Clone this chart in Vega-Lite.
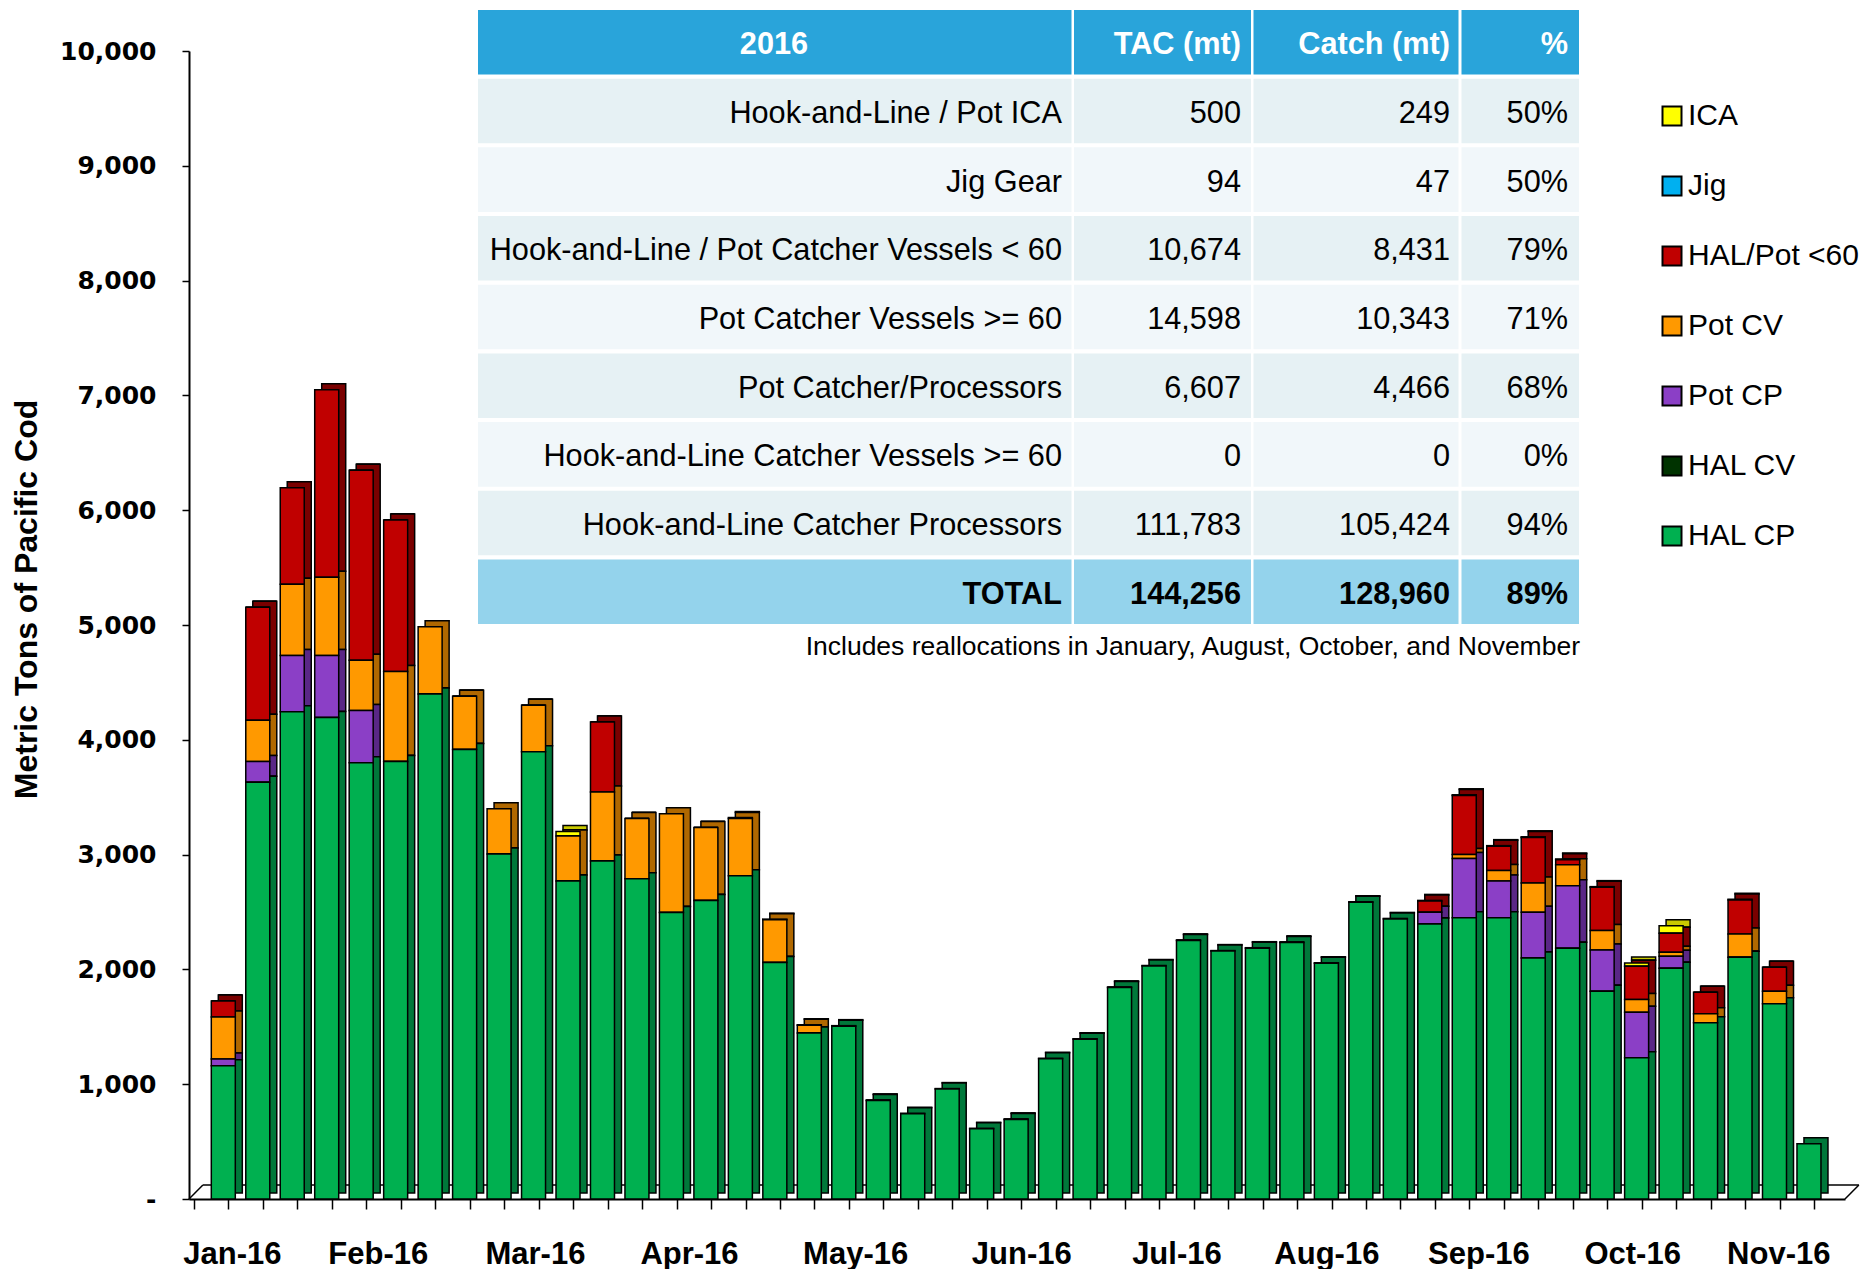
{
  "$schema": "https://vega.github.io/schema/vega-lite/v6.json",
  "width": 1656,
  "height": 1148,
  "autosize": "none",
  "padding": {"left": 189, "top": 51, "right": 28, "bottom": 70},
  "background": "white",
  "config": {"view": {"stroke": null}, "font": "Liberation Sans"},
  "datasets": {
    "weeks": [
      {"week":1,"HAL CP":1160,"HAL CV":0,"Pot CP":60,"Pot CV":365,"HAL/Pot <60":140,"Jig":0,"ICA":0},
      {"week":2,"HAL CP":3630,"HAL CV":0,"Pot CP":180,"Pot CV":360,"HAL/Pot <60":985,"Jig":0,"ICA":0},
      {"week":3,"HAL CP":4245,"HAL CV":0,"Pot CP":490,"Pot CV":620,"HAL/Pot <60":840,"Jig":0,"ICA":0},
      {"week":4,"HAL CP":4195,"HAL CV":0,"Pot CP":540,"Pot CV":680,"HAL/Pot <60":1635,"Jig":0,"ICA":0},
      {"week":5,"HAL CP":3800,"HAL CV":0,"Pot CP":455,"Pot CV":438,"HAL/Pot <60":1655,"Jig":0,"ICA":0},
      {"week":6,"HAL CP":3810,"HAL CV":0,"Pot CP":0,"Pot CV":785,"HAL/Pot <60":1320,"Jig":0,"ICA":0},
      {"week":7,"HAL CP":4400,"HAL CV":0,"Pot CP":0,"Pot CV":585,"HAL/Pot <60":0,"Jig":0,"ICA":0},
      {"week":8,"HAL CP":3915,"HAL CV":0,"Pot CP":0,"Pot CV":465,"HAL/Pot <60":0,"Jig":0,"ICA":0},
      {"week":9,"HAL CP":3005,"HAL CV":0,"Pot CP":0,"Pot CV":395,"HAL/Pot <60":0,"Jig":0,"ICA":0},
      {"week":10,"HAL CP":3895,"HAL CV":0,"Pot CP":0,"Pot CV":405,"HAL/Pot <60":0,"Jig":0,"ICA":0},
      {"week":11,"HAL CP":2770,"HAL CV":0,"Pot CP":0,"Pot CV":392,"HAL/Pot <60":0,"Jig":0,"ICA":40},
      {"week":12,"HAL CP":2945,"HAL CV":0,"Pot CP":0,"Pot CV":600,"HAL/Pot <60":610,"Jig":0,"ICA":0},
      {"week":13,"HAL CP":2790,"HAL CV":0,"Pot CP":0,"Pot CV":525,"HAL/Pot <60":0,"Jig":0,"ICA":0},
      {"week":14,"HAL CP":2495,"HAL CV":0,"Pot CP":0,"Pot CV":860,"HAL/Pot <60":0,"Jig":0,"ICA":0},
      {"week":15,"HAL CP":2600,"HAL CV":0,"Pot CP":0,"Pot CV":635,"HAL/Pot <60":0,"Jig":0,"ICA":0},
      {"week":16,"HAL CP":2815,"HAL CV":0,"Pot CP":0,"Pot CV":500,"HAL/Pot <60":0,"Jig":0,"ICA":8},
      {"week":17,"HAL CP":2060,"HAL CV":0,"Pot CP":0,"Pot CV":372,"HAL/Pot <60":0,"Jig":0,"ICA":6},
      {"week":18,"HAL CP":1445,"HAL CV":0,"Pot CP":0,"Pot CV":68,"HAL/Pot <60":0,"Jig":0,"ICA":5},
      {"week":19,"HAL CP":1505,"HAL CV":0,"Pot CP":0,"Pot CV":0,"HAL/Pot <60":0,"Jig":0,"ICA":5},
      {"week":20,"HAL CP":858,"HAL CV":0,"Pot CP":0,"Pot CV":0,"HAL/Pot <60":0,"Jig":0,"ICA":4},
      {"week":21,"HAL CP":743,"HAL CV":0,"Pot CP":0,"Pot CV":0,"HAL/Pot <60":0,"Jig":0,"ICA":4},
      {"week":22,"HAL CP":958,"HAL CV":0,"Pot CP":0,"Pot CV":0,"HAL/Pot <60":0,"Jig":0,"ICA":4},
      {"week":23,"HAL CP":612,"HAL CV":0,"Pot CP":0,"Pot CV":0,"HAL/Pot <60":0,"Jig":0,"ICA":4},
      {"week":24,"HAL CP":693,"HAL CV":0,"Pot CP":0,"Pot CV":0,"HAL/Pot <60":0,"Jig":0,"ICA":4},
      {"week":25,"HAL CP":1222,"HAL CV":0,"Pot CP":0,"Pot CV":0,"HAL/Pot <60":0,"Jig":0,"ICA":4},
      {"week":26,"HAL CP":1392,"HAL CV":0,"Pot CP":0,"Pot CV":0,"HAL/Pot <60":0,"Jig":0,"ICA":4},
      {"week":27,"HAL CP":1842,"HAL CV":0,"Pot CP":0,"Pot CV":0,"HAL/Pot <60":0,"Jig":0,"ICA":4},
      {"week":28,"HAL CP":2030,"HAL CV":0,"Pot CP":0,"Pot CV":0,"HAL/Pot <60":0,"Jig":0,"ICA":4},
      {"week":29,"HAL CP":2252,"HAL CV":0,"Pot CP":0,"Pot CV":0,"HAL/Pot <60":0,"Jig":0,"ICA":4},
      {"week":30,"HAL CP":2160,"HAL CV":0,"Pot CP":0,"Pot CV":0,"HAL/Pot <60":0,"Jig":0,"ICA":4},
      {"week":31,"HAL CP":2185,"HAL CV":0,"Pot CP":0,"Pot CV":0,"HAL/Pot <60":0,"Jig":0,"ICA":4},
      {"week":32,"HAL CP":2235,"HAL CV":0,"Pot CP":0,"Pot CV":0,"HAL/Pot <60":0,"Jig":0,"ICA":4},
      {"week":33,"HAL CP":2053,"HAL CV":0,"Pot CP":0,"Pot CV":0,"HAL/Pot <60":0,"Jig":0,"ICA":4},
      {"week":34,"HAL CP":2585,"HAL CV":0,"Pot CP":0,"Pot CV":0,"HAL/Pot <60":0,"Jig":0,"ICA":4},
      {"week":35,"HAL CP":2440,"HAL CV":0,"Pot CP":0,"Pot CV":0,"HAL/Pot <60":0,"Jig":0,"ICA":4},
      {"week":36,"HAL CP":2395,"HAL CV":0,"Pot CP":102,"Pot CV":0,"HAL/Pot <60":98,"Jig":0,"ICA":6},
      {"week":37,"HAL CP":2450,"HAL CV":0,"Pot CP":515,"Pot CV":35,"HAL/Pot <60":515,"Jig":0,"ICA":6},
      {"week":38,"HAL CP":2450,"HAL CV":0,"Pot CP":320,"Pot CV":92,"HAL/Pot <60":210,"Jig":0,"ICA":6},
      {"week":39,"HAL CP":2100,"HAL CV":0,"Pot CP":397,"Pot CV":255,"HAL/Pot <60":397,"Jig":0,"ICA":6},
      {"week":40,"HAL CP":2184,"HAL CV":0,"Pot CP":545,"Pot CV":183,"HAL/Pot <60":44,"Jig":0,"ICA":6},
      {"week":41,"HAL CP":1810,"HAL CV":0,"Pot CP":360,"Pot CV":168,"HAL/Pot <60":377,"Jig":0,"ICA":6},
      {"week":42,"HAL CP":1230,"HAL CV":0,"Pot CP":397,"Pot CV":110,"HAL/Pot <60":290,"Jig":0,"ICA":29},
      {"week":43,"HAL CP":2010,"HAL CV":0,"Pot CP":104,"Pot CV":35,"HAL/Pot <60":165,"Jig":0,"ICA":67},
      {"week":44,"HAL CP":1535,"HAL CV":0,"Pot CP":0,"Pot CV":78,"HAL/Pot <60":189,"Jig":0,"ICA":0},
      {"week":45,"HAL CP":2106,"HAL CV":0,"Pot CP":0,"Pot CV":203,"HAL/Pot <60":296,"Jig":0,"ICA":6},
      {"week":46,"HAL CP":1700,"HAL CV":0,"Pot CP":0,"Pot CV":110,"HAL/Pot <60":209,"Jig":0,"ICA":0},
      {"week":47,"HAL CP":481,"HAL CV":0,"Pot CP":0,"Pot CV":0,"HAL/Pot <60":0,"Jig":0,"ICA":0}
    ],
    "table": [
      {"label":"2016","tac":"TAC (mt)","catch":"Catch (mt)","pct":"%"},
      {"label":"Hook-and-Line / Pot ICA","tac":"500","catch":"249","pct":"50%"},
      {"label":"Jig Gear","tac":"94","catch":"47","pct":"50%"},
      {"label":"Hook-and-Line / Pot Catcher Vessels < 60","tac":"10,674","catch":"8,431","pct":"79%"},
      {"label":"Pot Catcher Vessels >= 60","tac":"14,598","catch":"10,343","pct":"71%"},
      {"label":"Pot Catcher/Processors","tac":"6,607","catch":"4,466","pct":"68%"},
      {"label":"Hook-and-Line Catcher Vessels >= 60","tac":"0","catch":"0","pct":"0%"},
      {"label":"Hook-and-Line Catcher Processors","tac":"111,783","catch":"105,424","pct":"94%"},
      {"label":"TOTAL","tac":"144,256","catch":"128,960","pct":"89%"}
    ]
  },
  "resolve": {"scale": {"x": "independent", "y": "independent", "color": "independent"}},
  "layer": [
    {
      "data": {"values": [{}]},
      "layer": [
        {
          "mark": {"type": "rule", "stroke": "black", "strokeWidth": 1.5},
          "encoding": {
            "x": {"datum": 0.55, "type": "quantitative", "axis": null, "scale": {"domain": [0.15, 47.9], "nice": false, "zero": false}},
            "x2": {"datum": 48.3},
            "y": {"datum": 122, "type": "quantitative", "axis": null, "scale": {"domain": [0, 10000], "nice": false}}
          }
        },
        {
          "mark": {"type": "rule", "stroke": "black", "strokeWidth": 1.5},
          "encoding": {
            "x": {"datum": 0.15, "type": "quantitative", "axis": null},
            "x2": {"datum": 0.55},
            "y": {"datum": 0, "type": "quantitative", "axis": null},
            "y2": {"datum": 122}
          }
        },
        {
          "mark": {"type": "rule", "stroke": "black", "strokeWidth": 1.5},
          "encoding": {
            "x": {"datum": 47.9, "type": "quantitative", "axis": null},
            "x2": {"datum": 48.3},
            "y": {"datum": 0, "type": "quantitative", "axis": null},
            "y2": {"datum": 122}
          }
        }
      ]
    },
    {
      "data": {"name": "weeks"},
      "transform": [
        {"fold": ["ICA", "Jig", "HAL/Pot <60", "Pot CV", "Pot CP", "HAL CV", "HAL CP"], "as": ["series", "mt"]},
        {"calculate": "indexof(['HAL CP','HAL CV','Pot CP','Pot CV','HAL/Pot <60','Jig','ICA'], datum.series)", "as": "stackOrder"}
      ],
      "mark": {"type": "bar", "width": 24, "xOffset": 7, "yOffset": -6, "stroke": "black", "strokeWidth": 1.5},
      "encoding": {
        "x": {"field": "week", "type": "quantitative",
          "scale": {"domain": [0.15, 47.9], "nice": false, "zero": false},
          "axis": {"orient": "bottom", "values": [0.15,1.15,2.15,3.15,4.15,5.15,6.15,7.15,8.15,9.15,10.15,11.15,12.15,13.15,14.15,15.15,16.15,17.15,18.15,19.15,20.15,21.15,22.15,23.15,24.15,25.15,26.15,27.15,28.15,29.15,30.15,31.15,32.15,33.15,34.15,35.15,36.15,37.15,38.15,39.15,40.15,41.15,42.15,43.15,44.15,45.15,46.15,47.15],
            "labels": false, "domain": false, "grid": false, "ticks": true, "tickSize": 10, "tickColor": "black", "tickWidth": 1.5, "title": null}},
        "y": {"field": "mt", "type": "quantitative", "stack": "zero", "scale": {"domain": [0, 10000], "nice": false}, "axis": null},
        "color": {"field": "series", "type": "nominal",
          "scale": {"domain": ["ICA", "Jig", "HAL/Pot <60", "Pot CV", "Pot CP", "HAL CV", "HAL CP"],
                    "range": ["#C9C900", "#0080B0", "#7A0000", "#B06800", "#5A2786", "#001A00", "#00783A"]},
          "legend": null},
        "order": {"field": "stackOrder", "type": "quantitative"}
      }
    },
    {
      "data": {"name": "weeks"},
      "transform": [
        {"fold": ["ICA", "Jig", "HAL/Pot <60", "Pot CV", "Pot CP", "HAL CV", "HAL CP"], "as": ["series", "mt"]},
        {"calculate": "indexof(['HAL CP','HAL CV','Pot CP','Pot CV','HAL/Pot <60','Jig','ICA'], datum.series)", "as": "stackOrder"}
      ],
      "mark": {"type": "bar", "width": 24, "stroke": "black", "strokeWidth": 1.5},
      "encoding": {
        "x": {"field": "week", "type": "quantitative",
          "scale": {"domain": [0.15, 47.9], "nice": false, "zero": false},
          "axis": {"orient": "bottom", "values": [1.25, 5.48, 10.04, 14.51, 19.33, 24.15, 28.65, 33, 37.41, 41.87, 46.11],
            "labelExpr": "['Jan-16','Feb-16','Mar-16','Apr-16','May-16','Jun-16','Jul-16','Aug-16','Sep-16','Oct-16','Nov-16'][indexof([1.25, 5.48, 10.04, 14.51, 19.33, 24.15, 28.65, 33, 37.41, 41.87, 46.11], datum.value)]",
            "labelFont": "Liberation Sans", "labelFontWeight": "bold", "labelFontSize": 31, "labelColor": "black",
            "labelPadding": 40, "labelFlush": false, "labelOverlap": false,
            "ticks": false, "tickSize": 0, "domain": true, "domainColor": "black", "domainWidth": 2, "grid": false, "title": null}},
        "y": {"field": "mt", "type": "quantitative", "stack": "zero",
          "scale": {"domain": [0, 10000], "nice": false},
          "axis": {"values": [0,1000,2000,3000,4000,5000,6000,7000,8000,9000,10000],
            "labelExpr": "datum.value == 0 ? '-  ' : format(datum.value, ',')",
            "labelFont": "DejaVu Sans", "labelFontWeight": "bold", "labelFontSize": 25, "labelColor": "black",
            "labelPadding": 26, "tickSize": 7, "tickColor": "black", "tickWidth": 1.5,
            "domainColor": "black", "domainWidth": 2, "grid": false,
            "title": "Metric Tons of Pacific Cod", "titleFont": "Liberation Sans", "titleFontWeight": "bold", "titleFontSize": 32, "titleColor": "black",
            "titleAngle": -90, "titleX": -163, "titleY": 548, "titleAlign": "center", "titleBaseline": "middle"}},
        "color": {"field": "series", "type": "nominal",
          "scale": {"domain": ["ICA", "Jig", "HAL/Pot <60", "Pot CV", "Pot CP", "HAL CV", "HAL CP"],
                    "range": ["#FFFF00", "#00B0F0", "#C00000", "#FF9900", "#8B3FC6", "#003300", "#00B050"]},
          "legend": {"orient": "none", "legendX": 1468, "legendY": 50, "title": null, "padding": 0,
            "symbolType": "square", "symbolSize": 361, "symbolStrokeColor": "black", "symbolStrokeWidth": 2,
            "labelFont": "Liberation Sans", "labelFontSize": 30, "labelColor": "black", "labelOffset": 1,
            "rowPadding": 40, "labelLimit": 400}},
        "order": {"field": "stackOrder", "type": "quantitative"}
      }
    },
    {
      "data": {"name": "table"},
      "layer": [
        {
          "mark": {"type": "bar"},
          "encoding": {
            "y": {"field": "label", "type": "nominal", "axis": null, "sort": null,
              "scale": {"type": "band", "domain": ["2016","Hook-and-Line / Pot ICA","Jig Gear","Hook-and-Line / Pot Catcher Vessels < 60","Pot Catcher Vessels >= 60","Pot Catcher/Processors","Hook-and-Line Catcher Vessels >= 60","Hook-and-Line Catcher Processors","TOTAL"], "range": [-41, 573], "paddingInner": 0.06, "paddingOuter": 0}},
            "x": {"datum": 0, "type": "quantitative", "axis": null, "scale": {"domain": [0, 1101], "range": [289, 1390], "nice": false, "zero": false}},
            "x2": {"datum": 593.5},
            "color": {"condition": [
              {"test": "datum.label === '2016'", "value": "#29A4DA"},
              {"test": "datum.label === 'TOTAL'", "value": "#94D3EC"},
              {"test": "indexof(['Jig Gear','Pot Catcher Vessels >= 60','Hook-and-Line Catcher Vessels >= 60'], datum.label) >= 0", "value": "#F1F7FA"}],
              "value": "#E6F1F4"}
          }
        },
        {
          "mark": {"type": "bar"},
          "encoding": {
            "y": {"field": "label", "type": "nominal", "axis": null, "sort": null},
            "x": {"datum": 596, "type": "quantitative", "axis": null},
            "x2": {"datum": 773},
            "color": {"condition": [
              {"test": "datum.label === '2016'", "value": "#29A4DA"},
              {"test": "datum.label === 'TOTAL'", "value": "#94D3EC"},
              {"test": "indexof(['Jig Gear','Pot Catcher Vessels >= 60','Hook-and-Line Catcher Vessels >= 60'], datum.label) >= 0", "value": "#F1F7FA"}],
              "value": "#E6F1F4"}
          }
        },
        {
          "mark": {"type": "bar"},
          "encoding": {
            "y": {"field": "label", "type": "nominal", "axis": null, "sort": null},
            "x": {"datum": 775.5, "type": "quantitative", "axis": null},
            "x2": {"datum": 980.5},
            "color": {"condition": [
              {"test": "datum.label === '2016'", "value": "#29A4DA"},
              {"test": "datum.label === 'TOTAL'", "value": "#94D3EC"},
              {"test": "indexof(['Jig Gear','Pot Catcher Vessels >= 60','Hook-and-Line Catcher Vessels >= 60'], datum.label) >= 0", "value": "#F1F7FA"}],
              "value": "#E6F1F4"}
          }
        },
        {
          "mark": {"type": "bar"},
          "encoding": {
            "y": {"field": "label", "type": "nominal", "axis": null, "sort": null},
            "x": {"datum": 983.5, "type": "quantitative", "axis": null},
            "x2": {"datum": 1101},
            "color": {"condition": [
              {"test": "datum.label === '2016'", "value": "#29A4DA"},
              {"test": "datum.label === 'TOTAL'", "value": "#94D3EC"},
              {"test": "indexof(['Jig Gear','Pot Catcher Vessels >= 60','Hook-and-Line Catcher Vessels >= 60'], datum.label) >= 0", "value": "#F1F7FA"}],
              "value": "#E6F1F4"}
          }
        },
        {
          "transform": [{"filter": "datum.label !== '2016' && datum.label !== 'TOTAL'"}],
          "mark": {"type": "text", "align": "right", "baseline": "middle", "dy": 3, "font": "Liberation Sans", "fontSize": 30.7, "color": "black"},
          "encoding": {
            "y": {"field": "label", "type": "nominal", "axis": null, "sort": null},
            "x": {"datum": 584, "type": "quantitative", "axis": null},
            "text": {"field": "label"}
          }
        },
        {
          "transform": [{"filter": "datum.label !== '2016' && datum.label !== 'TOTAL'"}],
          "mark": {"type": "text", "align": "right", "baseline": "middle", "dy": 3, "font": "Liberation Sans", "fontSize": 30.7, "color": "black"},
          "encoding": {
            "y": {"field": "label", "type": "nominal", "axis": null, "sort": null},
            "x": {"datum": 763, "type": "quantitative", "axis": null},
            "text": {"field": "tac"}
          }
        },
        {
          "transform": [{"filter": "datum.label !== '2016' && datum.label !== 'TOTAL'"}],
          "mark": {"type": "text", "align": "right", "baseline": "middle", "dy": 3, "font": "Liberation Sans", "fontSize": 30.7, "color": "black"},
          "encoding": {
            "y": {"field": "label", "type": "nominal", "axis": null, "sort": null},
            "x": {"datum": 972, "type": "quantitative", "axis": null},
            "text": {"field": "catch"}
          }
        },
        {
          "transform": [{"filter": "datum.label !== '2016' && datum.label !== 'TOTAL'"}],
          "mark": {"type": "text", "align": "right", "baseline": "middle", "dy": 3, "font": "Liberation Sans", "fontSize": 30.7, "color": "black"},
          "encoding": {
            "y": {"field": "label", "type": "nominal", "axis": null, "sort": null},
            "x": {"datum": 1090, "type": "quantitative", "axis": null},
            "text": {"field": "pct"}
          }
        },
        {
          "transform": [{"filter": "datum.label === '2016'"}],
          "mark": {"type": "text", "align": "center", "baseline": "middle", "dy": 3, "font": "Liberation Sans", "fontSize": 30.7, "fontWeight": "bold", "color": "white"},
          "encoding": {
            "y": {"field": "label", "type": "nominal", "axis": null, "sort": null},
            "x": {"datum": 296, "type": "quantitative", "axis": null},
            "text": {"field": "label"}
          }
        },
        {
          "transform": [{"filter": "datum.label === 'TOTAL'"}],
          "mark": {"type": "text", "align": "right", "baseline": "middle", "dy": 3, "font": "Liberation Sans", "fontSize": 30.7, "fontWeight": "bold", "color": "black"},
          "encoding": {
            "y": {"field": "label", "type": "nominal", "axis": null, "sort": null},
            "x": {"datum": 584, "type": "quantitative", "axis": null},
            "text": {"field": "label"}
          }
        },
        {
          "transform": [{"filter": "datum.label === '2016' || datum.label === 'TOTAL'"}],
          "mark": {"type": "text", "align": "right", "baseline": "middle", "dy": 3, "font": "Liberation Sans", "fontSize": 30.7, "fontWeight": "bold"},
          "encoding": {
            "y": {"field": "label", "type": "nominal", "axis": null, "sort": null},
            "x": {"datum": 763, "type": "quantitative", "axis": null},
            "text": {"field": "tac"},
            "color": {"condition": {"test": "datum.label === '2016'", "value": "white"}, "value": "black"}
          }
        },
        {
          "transform": [{"filter": "datum.label === '2016' || datum.label === 'TOTAL'"}],
          "mark": {"type": "text", "align": "right", "baseline": "middle", "dy": 3, "font": "Liberation Sans", "fontSize": 30.7, "fontWeight": "bold"},
          "encoding": {
            "y": {"field": "label", "type": "nominal", "axis": null, "sort": null},
            "x": {"datum": 972, "type": "quantitative", "axis": null},
            "text": {"field": "catch"},
            "color": {"condition": {"test": "datum.label === '2016'", "value": "white"}, "value": "black"}
          }
        },
        {
          "transform": [{"filter": "datum.label === '2016' || datum.label === 'TOTAL'"}],
          "mark": {"type": "text", "align": "right", "baseline": "middle", "dy": 3, "font": "Liberation Sans", "fontSize": 30.7, "fontWeight": "bold"},
          "encoding": {
            "y": {"field": "label", "type": "nominal", "axis": null, "sort": null},
            "x": {"datum": 1090, "type": "quantitative", "axis": null},
            "text": {"field": "pct"},
            "color": {"condition": {"test": "datum.label === '2016'", "value": "white"}, "value": "black"}
          }
        },
        {
          "data": {"values": [{"note": "Includes reallocations in January, August, October, and November"}]},
          "mark": {"type": "text", "align": "right", "baseline": "middle", "font": "Liberation Sans", "fontSize": 26.5, "color": "black", "yOffset": 55},
          "encoding": {
            "y": {"datum": "TOTAL", "type": "nominal", "axis": null},
            "x": {"datum": 1102, "type": "quantitative", "axis": null},
            "text": {"field": "note"}
          }
        }
      ]
    }
  ]
}
